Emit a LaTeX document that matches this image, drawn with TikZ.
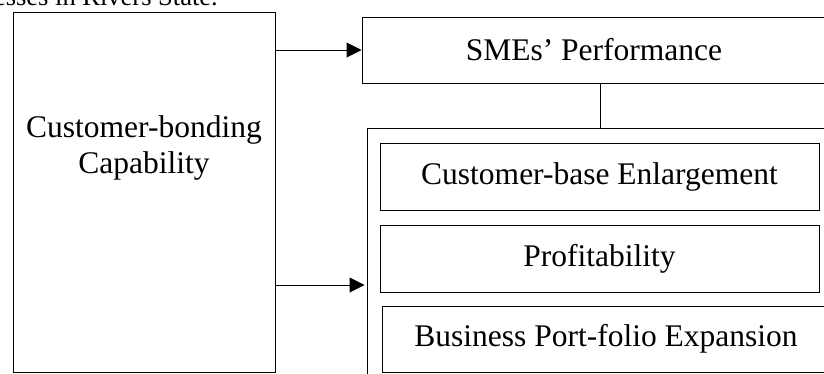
\documentclass[tikz,border=0pt]{standalone}
\usepackage{fontspec}
\setmainfont{Liberation Serif}
\usetikzlibrary{arrows.meta}
\begin{document}
\begin{tikzpicture}[x=1pt,y=-1pt,
  box/.style={draw, line width=1pt, inner sep=0pt, font=\fontsize{31.5}{36}\selectfont},
  lbl/.style={font=\fontsize{31.5}{36}\selectfont, align=center, inner sep=0pt},
  arr/.style={line width=1pt, -{Triangle[length=15pt,width=15pt]}}]
\useasboundingbox (0,0) rectangle (824,373);
\clip (0,0) rectangle (824,373);

% running text above the figure
\node[anchor=base east, inner sep=0pt, font=\fontsize{26.5}{30}\selectfont] (head) at (218,5) {esses in Rivers State.};

% independent variable
\node[box, minimum width=262pt, minimum height=360pt] (capbox) at (144,192) {};
\node[lbl] (captext) at (144,148) {Customer-bonding\\Capability};

% dependent variable and its measures
\node[box, minimum width=464pt, minimum height=66pt] (smes) at (594,50) {SMEs’ Performance};
\node[box, minimum width=473pt, minimum height=262pt] (outer) at (603.5,259) {};
\node[box, minimum width=439pt, minimum height=67pt] (cbe) at (599.5,176.5) {Customer-base Enlargement};
\node[box, minimum width=439pt, minimum height=67pt] (prof) at (599.5,258.5) {Profitability};
\node[box, minimum width=448pt, minimum height=66pt] (bpe) at (606,339) {Business Port-folio Expansion};

% connectors
\coordinate (lowin) at (0,285);
\coordinate (link) at (600,0);
\draw[arr] (capbox.east |- smes.west) -- (smes.west);
\draw[arr, shorten >=2pt] (capbox.east |- lowin) -- (outer.west |- lowin);
\draw[line width=1pt] (smes.south -| link) -- (outer.north -| link);
\end{tikzpicture}
\end{document}
